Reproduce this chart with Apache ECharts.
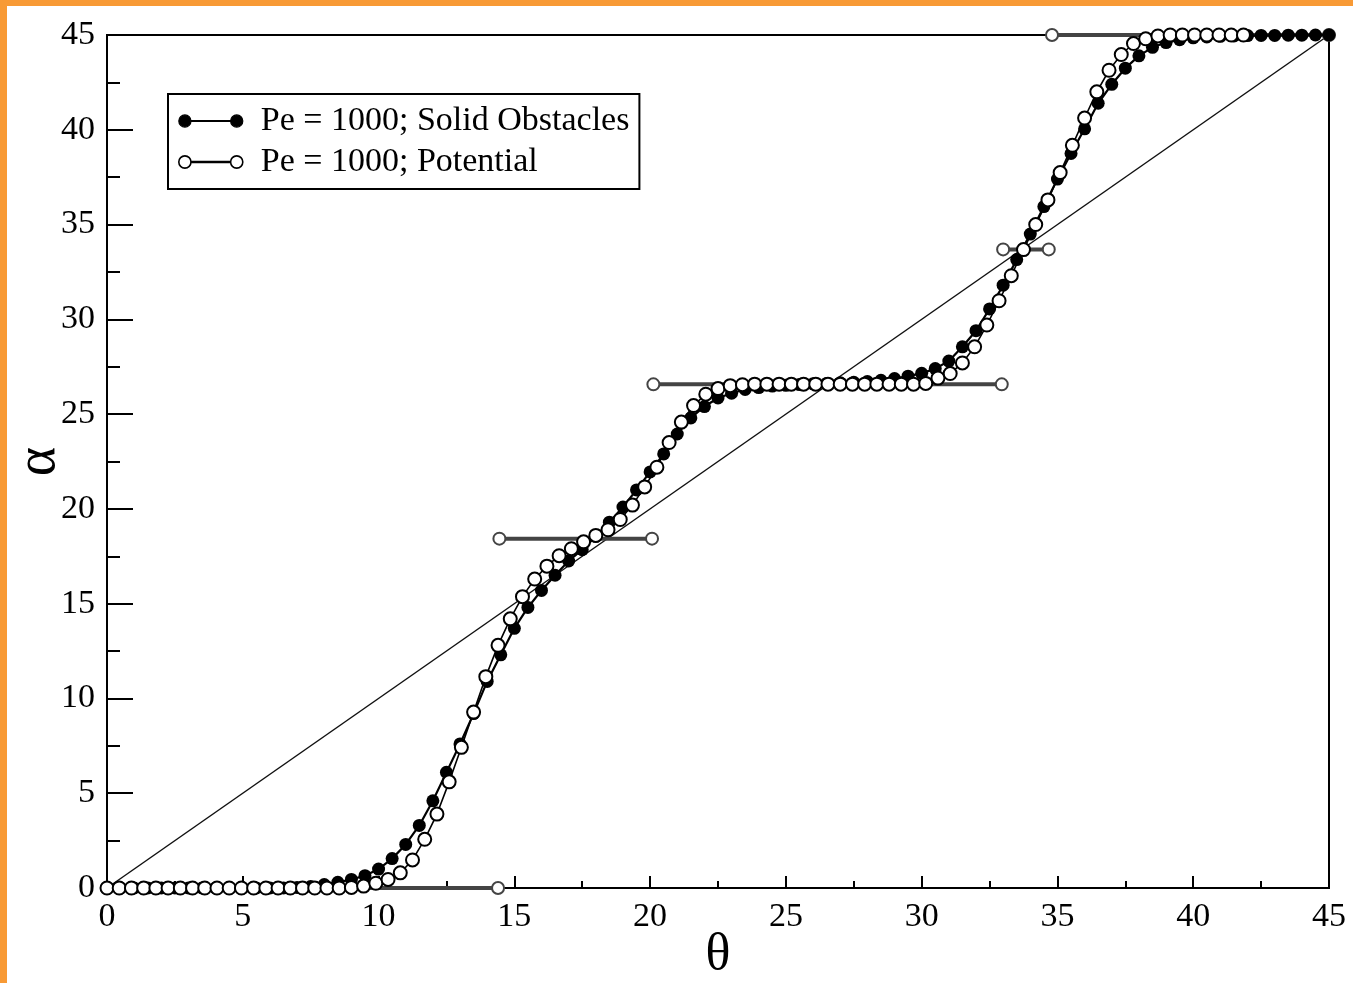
<!DOCTYPE html>
<html>
<head>
<meta charset="utf-8">
<script src="https://cdn.jsdelivr.net/npm/echarts@6/dist/echarts.min.js"></script>
<style>
  html, body { margin: 0; padding: 0; background: #fff; }
  .frame { position: relative; width: 1353px; height: 983px; background: #f89a35; }
  #chart { position: absolute; left: 7px; top: 6px; width: 1346px; height: 977px; background: #fff; }
</style>
</head>
<body>
<div class="frame"><div id="chart"></div></div>
<script>
// Pe = 1000; Solid Obstacles (filled circles), theta step 0.5
const thetaSolid = [
  0, 0.5, 1, 1.5, 2, 2.5, 3, 3.5, 4, 4.5, 5, 5.5, 6, 6.5, 7, 7.5, 8, 8.5, 9, 9.5,
  10, 10.5, 11, 11.5, 12, 12.5, 13, 13.5, 14, 14.5, 15, 15.5, 16, 16.5, 17, 17.5, 18, 18.5, 19, 19.5,
  20, 20.5, 21, 21.5, 22, 22.5, 23, 23.5, 24, 24.5, 25, 25.5, 26, 26.5, 27, 27.5, 28, 28.5, 29, 29.5,
  30, 30.5, 31, 31.5, 32, 32.5, 33, 33.5, 34, 34.5, 35, 35.5, 36, 36.5, 37, 37.5, 38, 38.5, 39, 39.5,
  40, 40.5, 41, 41.5, 42, 42.5, 43, 43.5, 44, 44.5, 45
]
const alphaSolid = [
  0, 0, 0, 0, 0, 0, 0, 0, 0, 0, 0, 0, 0, 0, 0.03, 0.08, 0.18, 0.3, 0.45, 0.65,
  1.0, 1.55, 2.3, 3.3, 4.6, 6.1, 7.6, 9.2, 10.9, 12.3, 13.7, 14.8, 15.7, 16.5, 17.25, 17.85, 18.55, 19.3, 20.1, 21.0,
  21.95, 22.9, 23.95, 24.8, 25.4, 25.85, 26.1, 26.3, 26.4, 26.48, 26.52, 26.56, 26.6, 26.62, 26.65, 26.68, 26.72, 26.78, 26.88, 27.0,
  27.15, 27.4, 27.8, 28.55, 29.4, 30.55, 31.8, 33.15, 34.5, 35.95, 37.4, 38.75, 40.05, 41.4, 42.4, 43.25, 43.9, 44.35, 44.6, 44.75,
  44.85, 44.9, 44.93, 44.95, 44.97, 44.98, 44.98, 44.99, 44.99, 45, 45
]

// Pe = 1000; Potential (open circles), theta step 0.45
const thetaPotential = [
  0, 0.45, 0.9, 1.35, 1.8, 2.25, 2.7, 3.15, 3.6, 4.05, 4.5, 4.95, 5.4, 5.85, 6.3, 6.75, 7.2, 7.65, 8.1, 8.55,
  9, 9.45, 9.9, 10.35, 10.8, 11.25, 11.7, 12.15, 12.6, 13.05, 13.5, 13.95, 14.4, 14.85, 15.3, 15.75, 16.2, 16.65, 17.1, 17.55,
  18, 18.45, 18.9, 19.35, 19.8, 20.25, 20.7, 21.15, 21.6, 22.05, 22.5, 22.95, 23.4, 23.85, 24.3, 24.75, 25.2, 25.65, 26.1, 26.55,
  27, 27.45, 27.9, 28.35, 28.8, 29.25, 29.7, 30.15, 30.6, 31.05, 31.5, 31.95, 32.4, 32.85, 33.3, 33.75, 34.2, 34.65, 35.1, 35.55,
  36, 36.45, 36.9, 37.35, 37.8, 38.25, 38.7, 39.15, 39.6, 40.05, 40.5, 40.95, 41.4, 41.85
]
const alphaPotential = [
  0, 0, 0, 0, 0, 0, 0, 0, 0, 0, 0, 0, 0, 0, 0, 0, 0, 0, 0, 0,
  0.03, 0.1, 0.25, 0.45, 0.8, 1.48, 2.57, 3.9, 5.6, 7.42, 9.28, 11.15, 12.8, 14.2, 15.37, 16.3, 16.98, 17.53, 17.9, 18.26,
  18.6, 18.9, 19.44, 20.2, 21.16, 22.2, 23.5, 24.58, 25.45, 26.05, 26.35, 26.5, 26.55, 26.58, 26.58, 26.58, 26.58, 26.58, 26.58, 26.58,
  26.58, 26.58, 26.58, 26.58, 26.58, 26.58, 26.58, 26.62, 26.9, 27.14, 27.7, 28.55, 29.7, 30.98, 32.3, 33.68, 35.0, 36.3, 37.74, 39.18,
  40.62, 42.0, 43.14, 43.97, 44.55, 44.8, 44.95, 45, 45, 45, 45, 45, 45, 45
]

// locked plateaus (grey bars with open ends)
const stepAlpha = [0, 18.43, 26.57, 33.69, 45]
const stepFrom = [0, 14.45, 20.12, 33.0, 34.8]
const stepTo = [14.4, 20.07, 32.95, 34.68, 45]

// diagonal alpha = theta
const diagTheta = [0, 45]

const serif = '"Liberation Serif", "DejaVu Serif", serif'
const dotsIcon = 'path://M0.5,6.5a6,6 0 1,0 12,0a6,6 0 1,0 -12,0Z M51.5,6.5a6,6 0 1,0 12,0a6,6 0 1,0 -12,0Z M12.5,6H51.5V7H12.5Z'

const chart = echarts.init(document.getElementById('chart'))

const stepSeries = stepAlpha.map((a, k) => ({
  name: 'step' + k,
  type: 'line',
  clip: false,
  z: 3,
  symbol: 'emptyCircle',
  symbolSize: 12,
  itemStyle: { color: '#444', borderColor: '#444', borderWidth: 1.5 },
  lineStyle: { color: '#444', width: 4 },
  data: [[stepFrom[k], a], [stepTo[k], a]]
}))

chart.setOption({
  animation: false,
  grid: {
    left: 100,
    right: 24,
    top: 29,
    bottom: 95,
    outerBoundsMode: 'none',
    containLabel: false,
    show: true,
    borderColor: '#000',
    borderWidth: 2
  },
  legend: {
    orient: 'vertical',
    left: 161,
    top: 88,
    padding: [10, 10, 10, 10],
    borderColor: '#000',
    borderWidth: 2,
    itemGap: 7,
    itemWidth: 64,
    itemHeight: 13,
    textStyle: { fontFamily: serif, fontSize: 34, color: '#000', lineHeight: 33, padding: [0, 0, 0, 13] },
    data: [
      { name: 'Pe = 1000; Solid Obstacles', icon: dotsIcon, itemStyle: { color: '#000', borderColor: '#000', borderWidth: 1.2 } },
      { name: 'Pe = 1000; Potential', icon: dotsIcon, itemStyle: { color: '#fff', borderColor: '#000', borderWidth: 1.6 } }
    ]
  },
  xAxis: {
    type: 'value',
    min: 0,
    max: 45,
    interval: 5,
    name: 'θ',
    nameLocation: 'middle',
    nameMoveOverlap: false,
    nameGap: 41,
    nameTextStyle: { fontFamily: serif, fontSize: 52, color: '#000' },
    axisLine: { lineStyle: { color: '#000', width: 2 } },
    axisTick: { inside: true, length: 12, lineStyle: { color: '#000', width: 2 } },
    minorTick: { show: true, splitNumber: 2, length: 7, lineStyle: { color: '#000', width: 2 } },
    splitLine: { show: false },
    axisLabel: { fontFamily: serif, fontSize: 34, color: '#000', margin: 12 }
  },
  yAxis: {
    type: 'value',
    min: 0,
    max: 45,
    interval: 5,
    name: 'α',
    nameLocation: 'middle',
    nameRotate: 90,
    nameMoveOverlap: false,
    nameGap: 40,
    nameTextStyle: { fontFamily: serif, fontSize: 56, color: '#000' },
    axisLine: { lineStyle: { color: '#000', width: 2 } },
    axisTick: { inside: true, length: 26, lineStyle: { color: '#000', width: 2 } },
    minorTick: { show: true, splitNumber: 2, length: 13, lineStyle: { color: '#000', width: 2 } },
    splitLine: { show: false },
    axisLabel: { fontFamily: serif, fontSize: 34, color: '#000', margin: 12 }
  },
  series: [
    {
      name: 'diagonal',
      type: 'line',
      z: 2,
      symbol: 'none',
      lineStyle: { color: '#111', width: 1.5 },
      data: diagTheta.map(t => [t, t])
    },
    ...stepSeries,
    {
      name: 'Pe = 1000; Solid Obstacles',
      type: 'line',
      clip: false,
      z: 4,
      symbol: 'circle',
      symbolSize: 13,
      itemStyle: { color: '#000' },
      lineStyle: { color: '#000', width: 2.2 },
      data: thetaSolid.map((t, i) => [t, alphaSolid[i]])
    },
    {
      name: 'Pe = 1000; Potential',
      type: 'line',
      clip: false,
      z: 5,
      symbol: 'emptyCircle',
      symbolSize: 13,
      itemStyle: { color: '#000', borderColor: '#000', borderWidth: 1.5 },
      lineStyle: { color: '#000', width: 1.6 },
      data: thetaPotential.map((t, i) => [t, alphaPotential[i]])
    }
  ]
})
</script>
</body>
</html>
